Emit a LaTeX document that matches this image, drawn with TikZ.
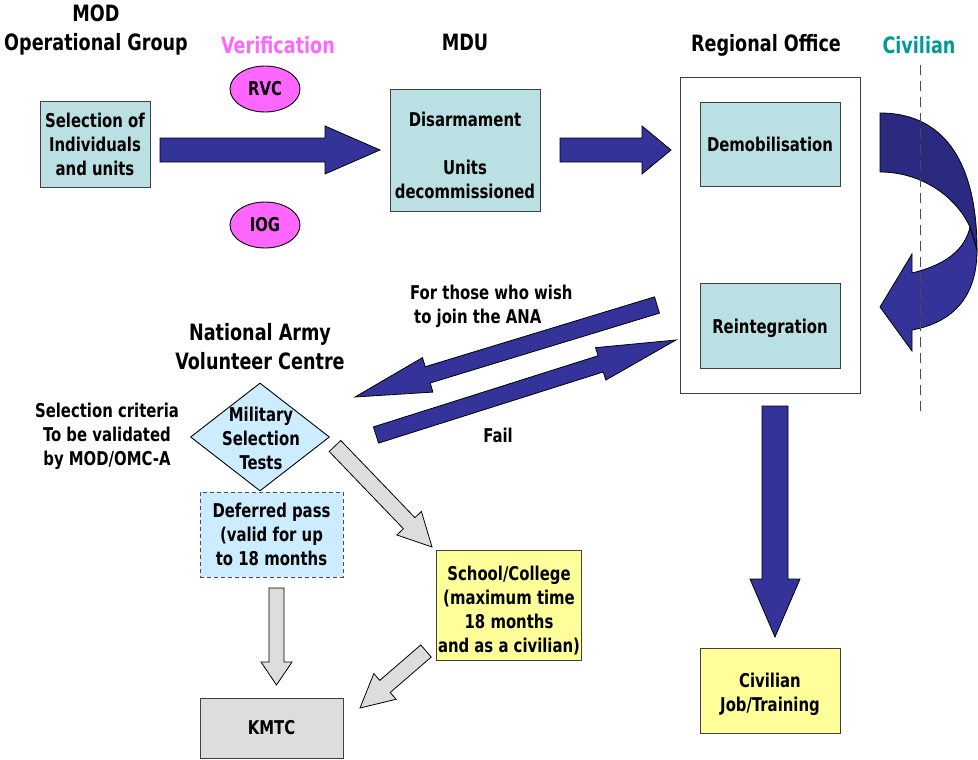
\documentclass[tikz,border=0pt]{standalone}
\usepackage{fontspec}
\setmainfont{DejaVu Sans Condensed}[FakeStretch=0.87]
\usetikzlibrary{shapes.geometric,calc}

\definecolor{armyblue}{HTML}{333399}
\definecolor{armyblue2}{HTML}{2A2A80}
\definecolor{paleteal}{HTML}{BBE0E3}
\definecolor{paleblue}{HTML}{CCECFF}
\definecolor{paleyellow}{HTML}{FFFF99}
\definecolor{palegrey}{HTML}{DDDDDD}
\definecolor{verifpink}{HTML}{FF66FF}
\definecolor{civteal}{HTML}{009999}

\newcommand{\diagfont}{\fontsize{19}{24}\selectfont\bfseries}
\newcommand{\diaghead}{\fontsize{22.5}{29}\selectfont\bfseries}
\newcommand{\lowered}[1]{\rule{0pt}{#1}}

% block arrow: [style]{from}{to}{half shaft}{half head}{head length}
\newcommand{\blockarrow}[6][]{%
  \coordinate (neck) at ($(#3)!#6pt!(#2)$);
  \draw[#1] ($(#2)!#4pt!90:(#3)$) -- ($(neck)!#4pt!90:(#3)$) -- ($(neck)!#5pt!90:(#3)$) -- (#3)
    -- ($(neck)!#5pt!-90:(#3)$) -- ($(neck)!#4pt!-90:(#3)$) -- ($(#2)!#4pt!-90:(#3)$) -- cycle;
}

\begin{document}
\begin{tikzpicture}[x=1pt,y=-1pt]
    \tikzstyle{txt}=[font=\diagfont, align=center, inner sep=0pt]
    \tikzstyle{head}=[font=\diaghead, align=center, inner sep=0pt]
    \tikzstyle{panel}=[rectangle, draw=black!75, line width=0.9pt, inner sep=0pt, txt]
    \tikzstyle{teal panel}=[panel, fill=paleteal]
    \tikzstyle{blue panel}=[panel, fill=paleblue]
    \tikzstyle{yellow panel}=[panel, fill=paleyellow]
    \tikzstyle{grey panel}=[panel, fill=palegrey]
    \tikzstyle{badge}=[ellipse, draw=black, line width=0.9pt, fill=verifpink, minimum width=70pt, minimum height=46pt, inner sep=0pt, txt]
    \tikzstyle{big arrow}=[fill=armyblue, draw=black, line width=0.8pt]
    \tikzstyle{small arrow}=[fill=palegrey, draw=black, line width=0.8pt]

    \useasboundingbox (0,0) rectangle (978,760);

    % headings
    \node[head] (modhead) at (96,30) {MOD\\Operational Group};
    \node[head, text=verifpink] (verif) at (278,45) {Verification};
    \node[head] (mduhead) at (465,42) {MDU};
    \node[head] (rohead) at (766,45) {Regional Office};
    \node[head, text=civteal] (civhead) at (919,45) {Civilian};
    \node[head] (nahead) at (260,347) {National Army\\Volunteer Centre};

    % boxes
    \node[teal panel, minimum width=110pt, minimum height=86pt] (sel) at (95,144) {Selection of\\Individuals\\and units};
    \node[teal panel, minimum width=150pt, minimum height=122pt] (disarm) at (465,150) {\lowered{26pt}Disarmament\\[24pt]Units\\decommissioned};
    \node[badge] (rvc) at (265,89) {RVC};
    \node[badge] (iog) at (265,225) {IOG};
    \node[panel, fill=white, minimum width=180pt, minimum height=316pt] (ro) at (770,235) {};
    \node[teal panel, minimum width=140pt, minimum height=84pt] (demob) at (770,144) {Demobilisation};
    \node[teal panel, minimum width=140pt, minimum height=85pt] (reint) at (770,326) {\lowered{20pt}Reintegration};
    \node[yellow panel, minimum width=140pt, minimum height=85pt] (civjob) at (770,691) {\lowered{22pt}Civilian\\Job/Training};
    \node[diamond, draw=black, line width=0.9pt, fill=paleblue, minimum width=139pt, minimum height=108pt, inner sep=0pt] (mst) at (260,437) {};
    \node[txt] (mstlabel) at (261,438) {Military\\Selection\\Tests};
    \node[blue panel, dash pattern=on 4pt off 3pt, draw=black!70, minimum width=143pt, minimum height=85pt] (defer) at (271.5,534.5) {Deferred pass\\(valid for up\\to 18 months};
    \node[yellow panel, minimum width=145pt, minimum height=110pt] (school) at (509,605) {\lowered{26pt}School/College\\(maximum time\\18 months\\and as a civilian)};
    \node[grey panel, minimum width=143pt, minimum height=60pt] (kmtc) at (271.5,728) {KMTC};

    % free labels
    \node[txt] (crit) at (107,436) {Selection criteria\\To be validated\\by MOD/OMC-A};
    \node[txt, align=left, anchor=west] (ana) at (410,306) {For those who wish\\\hspace{4pt}to join the ANA};
    \node[txt] (fail) at (498,435) {Fail};

    % arrow ends
    \coordinate (selout) at (160,150);   \coordinate (disarmin) at (380,150);
    \coordinate (disarmout) at (560,150); \coordinate (roin) at (671,150);
    \coordinate (anaout) at (657,305);   \coordinate (anain) at (355,397);
    \coordinate (failout) at (376,435);  \coordinate (failin) at (676,340);
    \coordinate (roout) at (775,406);    \coordinate (civjobin) at (775,637);
    \coordinate (mstout) at (335,446);   \coordinate (schoolin) at (432,547);
    \coordinate (schoolout) at (426,651); \coordinate (kmtcin) at (360,708);
    \coordinate (deferout) at (276.5,588); \coordinate (kmtctop) at (276.5,685);
    \coordinate (divtop) at (920,65);    \coordinate (divbot) at (920,417);

    \blockarrow[big arrow]{selout}{disarmin}{12}{24}{55}
    \blockarrow[big arrow]{disarmout}{roin}{12}{24}{29}
    \blockarrow[big arrow]{anaout}{anain}{8.5}{18}{76}
    \blockarrow[big arrow]{failout}{failin}{8.5}{17}{79}
    \blockarrow[big arrow]{roout}{civjobin}{13}{25}{58}

    \foreach \from/\to in {mstout/schoolin, schoolout/kmtcin}
        {\blockarrow[small arrow]{\from}{\to}{8}{17}{33}}
    \blockarrow[small arrow]{deferout}{kmtctop}{7.5}{15.5}{23}

    % turning arrow to civilian side
    \draw[fill=armyblue2, line width=0.8pt] (880,113) .. controls (948,113) and (977,168) .. (977,250)
        -- (970,227) .. controls (955,195) and (920,172) .. (880,172) -- cycle;
    \draw[fill=armyblue, line width=0.8pt] (970,227) -- (977,250) .. controls (977,295) and (955,322) .. (912,330)
        -- (912,351) -- (880,307) -- (912,254) -- (912,273) .. controls (945,265) and (965,250) .. (970,227) -- cycle;

    \draw[dash pattern=on 10pt off 6pt, line width=1pt, black!70] (divtop) -- (divbot);
\end{tikzpicture}
\end{document}
